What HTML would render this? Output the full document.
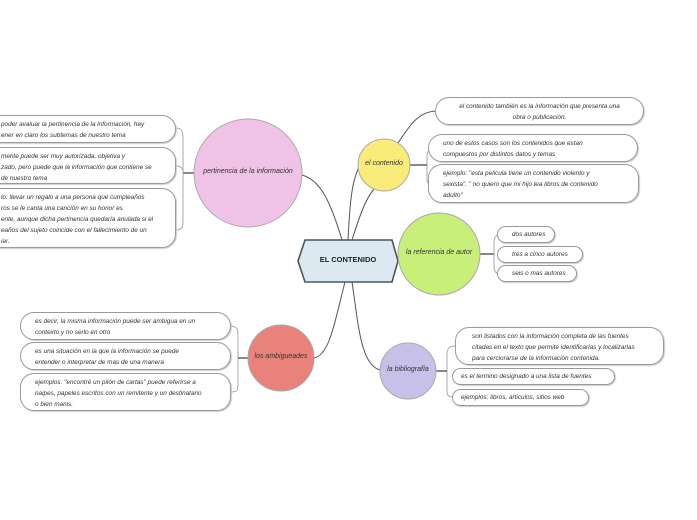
<!DOCTYPE html>
<html><head><meta charset="utf-8"><style>
body{margin:0;width:697px;height:520px;background:#fff;overflow:hidden;position:relative;font-family:"Liberation Sans",sans-serif;}
.b{position:absolute;box-sizing:border-box;border:1px solid #9a9a9a;border-radius:14px;background:#fff;font-style:italic;font-size:6.4px;line-height:11px;color:#333;padding:3px 0 0 14px;box-shadow:1px 1px 1px #ccc;}
.c{position:absolute;font-style:italic;font-size:7px;color:#333;text-align:center;white-space:nowrap}
</style></head><body>
<svg width="697" height="520" style="position:absolute;left:0;top:0">
<g fill="none" stroke="#555" stroke-width="1">
<path d="M342 240 C330 200 320 180 302 175"/>
<path d="M348 240 C350 200 352 180 360 165"/>
<path d="M352 240 C360 215 365 200 374 189"/>
<path d="M398 143 C410 125 418 112 436 111"/>
<path d="M345 282 C335 320 330 355 314 358"/>
<path d="M352 282 C358 320 360 365 380 370"/>
</g>
<g fill="none" stroke="#aaa" stroke-width="1">
<path d="M176 128 C184 128 183 135 183 145 L183 215 C183 225 184 230 176 230"/>
<path d="M176 166 C180 166 183 168 183 172"/>
<path d="M183 173 L194 173" stroke="#888" stroke-width="2"/>
<path d="M436 148 C428 148 427 152 427 158 L427 178 C427 184 428 185 436 185"/>
<path d="M410 165 L427 165" stroke="#888" stroke-width="2"/>
<path d="M503 234 C495 234 494 238 494 244 L494 265 C494 272 495 274 503 274"/>
<path d="M480 254 L494 254" stroke="#888" stroke-width="2"/>
<path d="M230 326 C238 326 238 330 238 336 L238 384 C238 390 238 392 230 392"/>
<path d="M238 358 L248 358" stroke="#888" stroke-width="2"/>
<path d="M455 346 C448 346 447 350 447 356 L447 390 C447 396 448 397 455 397"/>
<path d="M436 371 L447 371" stroke="#888" stroke-width="2"/>
</g>
<polygon points="305,240 392,240 398,261 392,282 305,282 298,261" fill="#dde9f0" stroke="#4a5560" stroke-width="1.6"/>
<circle cx="248" cy="173" r="54" fill="#f0c2e6" stroke="#aaa"/>
<circle cx="384" cy="165" r="26" fill="#f9ec78" stroke="#aaa"/>
<circle cx="439" cy="254" r="41" fill="#c8ef7a" stroke="#aaa"/>
<circle cx="281" cy="358" r="33" fill="#e8827a" stroke="#aaa"/>
<circle cx="408" cy="371" r="28" fill="#c7c0e8" stroke="#aaa"/>
</svg>
<div class="c" style="left:298px;top:255px;width:100px;font-style:normal;font-weight:bold;font-size:7.5px;color:#222">EL CONTENIDO</div>
<div class="c" style="left:194px;top:168px;width:108px">pertinencia de la información</div>
<div class="c" style="left:358px;top:160px;width:52px">el contenido</div>
<div class="c" style="left:398px;top:249px;width:82px">la referencia de autor</div>
<div class="c" style="left:248px;top:353px;width:66px">los ambigueades</div>
<div class="c" style="left:380px;top:366px;width:56px">la bibliografía</div>

<div class="b" style="left:-14px;top:115px;width:190px;height:28px">poder avaluar la pertinencia de la información, hay<br>ener en claro los subtemas de nuestro tema</div>
<div class="b" style="left:-14px;top:147px;width:190px;height:37px">mente puede ser muy autorizada, objetiva y<br>zado, pero puede que la información que contiene se<br>de nuestro tema</div>
<div class="b" style="left:-14px;top:188px;width:190px;height:60px">lo: llevar un regalo a una persona que cumpleaños<br>ros se le canta una canción en su honor es<br>ente, aunque dicha pertinencia quedaría anulada si el<br>eaños del sujeto coincide con el fallecimiento de un<br>iar.</div>

<div class="b" style="left:435px;top:97px;width:209px;height:28px;text-align:center;padding-left:0">el contenido también es la información que presenta una<br>obra o publicación.</div>
<div class="b" style="left:428px;top:134px;width:210px;height:28px">uno de estos casos son los contenidos que estan<br>compuestos por distintos datos y temas</div>
<div class="b" style="left:428px;top:164px;width:211px;height:39px">ejemplo: "esta pelicula tiene un contenido violento y<br>sexista". " no quiero que mi hijo lea libros de contenido<br>adulto"</div>

<div class="b" style="left:497px;top:226px;width:58px;height:17px;padding-top:2px;border-radius:9px">dos autores</div>
<div class="b" style="left:497px;top:246px;width:86px;height:17px;padding-top:2px;border-radius:9px">tres a cinco autores</div>
<div class="b" style="left:497px;top:265px;width:80px;height:17px;padding-top:2px;border-radius:9px">seis o mas autores</div>

<div class="b" style="left:20px;top:312px;width:211px;height:28px">es decir, la misma información puede ser ambigua en un<br>contexto y no serlo en otro</div>
<div class="b" style="left:20px;top:342px;width:211px;height:28px">es una situación en la que la información se puede<br>entender o interpretar de mas de una manera</div>
<div class="b" style="left:20px;top:373px;width:211px;height:38px">ejemplos: "encontré un pilón de cartas" puede referirse a<br>naipes, papeles escritos con un remitente y un destinatario<br>o bien manis.</div>

<div class="b" style="left:455px;top:327px;width:209px;height:38px;padding-left:16px">son listados con la información completa de las fuentes<br>citadas en el texto que permite identificarlas y localizarlas<br>para cerciorarse de la información contenida.</div>
<div class="b" style="left:452px;top:368px;width:163px;height:17px;padding-top:2px;padding-left:8px;border-radius:9px">es el termino designado a una lista de fuentes</div>
<div class="b" style="left:452px;top:389px;width:137px;height:17px;padding-top:2px;padding-left:8px;border-radius:9px">ejemplos: libros, articulos, sitios web</div>
</body></html>
